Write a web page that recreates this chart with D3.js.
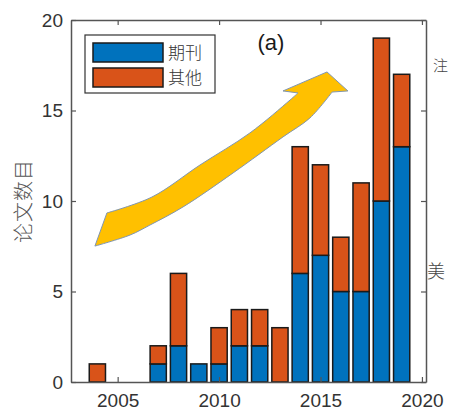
<!DOCTYPE html>
<html>
<head>
<meta charset="utf-8">
<script src="https://cdn.jsdelivr.net/npm/d3@7/dist/d3.min.js"></script>
<style>
  html, body { margin: 0; padding: 0; background: #fff; }
  svg { display: block; }
  .tick text { font-family: "Liberation Sans", Arial, sans-serif; }
</style>
</head>
<body>
<svg id="chart" width="449" height="419"></svg>
<script>
// Publications per year, split by venue type
const years    = [2004, 2007, 2008, 2009, 2010, 2011, 2012, 2013, 2014, 2015, 2016, 2017, 2018, 2019];
const journals = [0,    1,    2,    1,    1,    2,    2,    0,    6,    7,    5,    5,    10,   13];
const others   = [1,    1,    4,    0,    2,    2,    2,    3,    7,    5,    3,    6,    9,    4];

const seriesNames  = ["期刊", "其他"];
const seriesColors = ["#0072BD", "#D95319"];

const xTicks = [2005, 2010, 2015, 2020];
const yTicks = [0, 5, 10, 15, 20];

// Trend arrow outline in data units (year, count)
const arrowUpper = [[2004.47, 9.34], [2006.69, 10.22], [2009.06, 11.99], [2011.52, 13.76], [2013.50, 15.58], [2013.89, 15.97]];
const arrowHead  = [[2013.15, 16.08], [2015.32, 17.13], [2016.35, 16.08], [2015.57, 16.02]];
const arrowLower = [[2015.57, 16.02], [2014.48, 14.59], [2013.15, 13.54], [2010.69, 11.55], [2008.22, 9.67], [2006.59, 8.67], [2005.61, 8.12], [2003.88, 7.51]];

const svg = d3.select("#chart");
const plot = { left: 71, right: 426, top: 20, bottom: 382 };

const x = d3.scaleLinear().domain([2002.7, 2020.2]).range([plot.left, plot.right]);
const y = d3.scaleLinear().domain([0, 20]).range([plot.bottom, plot.top]);

const rows = years.map((yr, i) => ({ year: yr, j: journals[i], o: others[i] }));
const stacked = d3.stack().keys(["j", "o"])(rows);

const barW = x(2000.8) - x(2000);

// Stacked bars
stacked.forEach((layer, li) => {
  svg.append("g")
    .selectAll("rect")
    .data(layer.filter(d => d[1] - d[0] > 0))
    .join("rect")
    .attr("x", d => x(d.data.year) - barW / 2)
    .attr("y", d => y(d[1]))
    .attr("width", barW)
    .attr("height", d => y(d[0]) - y(d[1]))
    .attr("fill", seriesColors[li])
    .attr("stroke", "#1a1a1a")
    .attr("stroke-width", 1.5);
});

// Curved trend arrow
const line = d3.line().x(d => x(d[0])).y(d => y(d[1])).curve(d3.curveCatmullRom.alpha(0.5));
const straight = d3.line().x(d => x(d[0])).y(d => y(d[1]));
const upperPath = line(arrowUpper);
const headPath = straight(arrowHead).replace(/^M/, "L");
const lowerPath = line(arrowLower).replace(/^M/, "L");
svg.append("path")
  .attr("d", upperPath + headPath + lowerPath + "Z")
  .attr("fill", "#FFC000")
  .attr("stroke", "#8096b0")
  .attr("stroke-width", 1)
  .attr("stroke-linejoin", "miter");

// Axes (box with inward ticks)
const axisColor = "#555";
const labelColor = "#333";
const gx = svg.append("g").attr("transform", `translate(0,${plot.bottom})`)
  .call(d3.axisBottom(x).tickValues(xTicks).tickFormat(d3.format("d")).tickSizeInner(-5).tickSizeOuter(0).tickPadding(12));
const gy = svg.append("g").attr("transform", `translate(${plot.left},0)`)
  .call(d3.axisLeft(y).tickValues(yTicks).tickSizeInner(-5).tickSizeOuter(0).tickPadding(8));
const gt = svg.append("g").attr("transform", `translate(0,${plot.top})`)
  .call(d3.axisTop(x).tickValues(xTicks).tickFormat("").tickSizeInner(-5).tickSizeOuter(0));
const gr = svg.append("g").attr("transform", `translate(${plot.right},0)`)
  .call(d3.axisRight(y).tickValues(yTicks).tickFormat("").tickSizeInner(-5).tickSizeOuter(0));

[gx, gy, gt, gr].forEach(g => {
  g.select(".domain").attr("stroke", axisColor).attr("stroke-width", 1.5);
  g.selectAll(".tick line").attr("stroke", axisColor).attr("stroke-width", 1.2);
  g.selectAll(".tick text").attr("fill", labelColor).attr("font-size", 19);
});

// Y axis title
svg.append("text")
  .attr("transform", `translate(31,${(plot.top + plot.bottom) / 2}) rotate(-90)`)
  .attr("text-anchor", "middle")
  .attr("font-family", "'Noto Sans CJK SC', sans-serif")
  .attr("font-weight", 300)
  .attr("font-size", 20)
  .attr("letter-spacing", 1)
  .attr("fill", "#555")
  .text("论文数目");

// Panel label
svg.append("text")
  .attr("x", 271).attr("y", 50)
  .attr("text-anchor", "middle")
  .attr("font-family", "'Liberation Sans', Arial, sans-serif")
  .attr("font-size", 22)
  .attr("fill", "#1a1a1a")
  .text("(a)");

// Legend
const legend = svg.append("g");
legend.append("rect")
  .attr("x", 85).attr("y", 35).attr("width", 130).attr("height", 58)
  .attr("fill", "#fff").attr("stroke", "#333").attr("stroke-width", 1.2);
seriesNames.forEach((name, i) => {
  const ry = 43 + i * 25;
  legend.append("rect")
    .attr("x", 93).attr("y", ry).attr("width", 70).attr("height", 19)
    .attr("fill", seriesColors[i]).attr("stroke", "#1a1a1a").attr("stroke-width", 1.5);
  legend.append("text")
    .attr("x", 168).attr("y", ry + 16)
    .attr("font-family", "'Noto Sans CJK SC', sans-serif")
    .attr("font-weight", 300)
    .attr("font-size", 17)
    .attr("fill", "#333")
    .text(name);
});

// Surrounding page text at the right margin
svg.append("text")
  .attr("x", 427).attr("y", 278)
  .attr("font-family", "'Noto Sans CJK SC', sans-serif")
  .attr("font-weight", 300)
  .attr("font-size", 18)
  .attr("fill", "#444")
  .text("美");
svg.append("text")
  .attr("x", 433).attr("y", 71)
  .attr("font-family", "'Noto Sans CJK SC', sans-serif")
  .attr("font-weight", 300)
  .attr("font-size", 15)
  .attr("fill", "#444")
  .text("注");
</script>
</body>
</html>
